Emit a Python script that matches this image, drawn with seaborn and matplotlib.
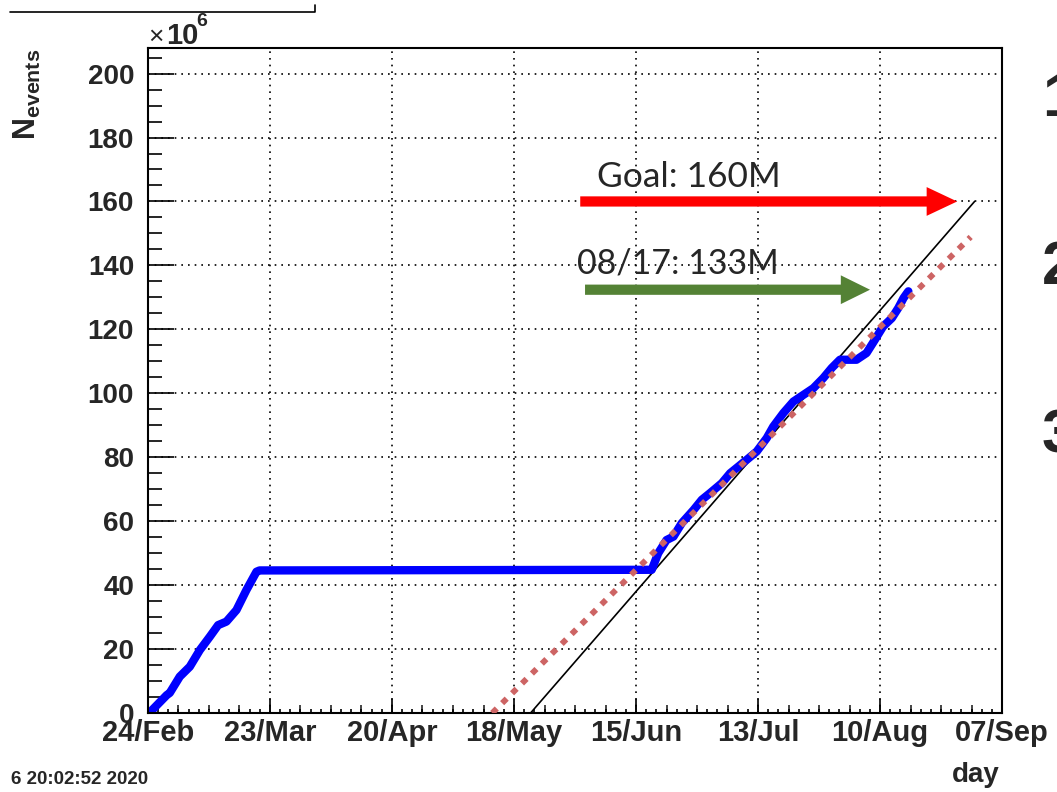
import datetime as dt
import numpy as np
import seaborn as sns
import matplotlib.pyplot as plt
from matplotlib.lines import Line2D
from matplotlib.ticker import MultipleLocator, FixedLocator, FuncFormatter

# days since 24/Feb/2020 and accumulated events (x10^6)
start_date = dt.date(2020, 2, 24)
run_days = [0, 0.5, 4.3, 5.0, 7.3, 9.6, 11.9, 14.2, 16.1, 18.0, 20.3, 22.6, 24.9, 25.6,
            115.6, 117.1, 119.0, 120.6, 122.5, 125.2, 127.1, 129.0, 131.7, 133.6, 135.5,
            137.4, 139.7, 142.0, 143.5, 145.8, 148.1, 150.4, 152.7, 155.0, 156.9, 158.8,
            162.6, 164.9, 166.8, 168.7, 170.7, 172.2, 173.4, 174.5]
run_events = [0, 0.3, 5.6, 6.3, 11.4, 14.5, 19.7, 23.9, 27.5, 28.6, 32.2, 38.5, 44.2, 44.6,
              44.8, 50.0, 54.1, 55.2, 59.4, 63.5, 66.7, 68.8, 71.9, 75.0, 77.1,
              79.2, 81.8, 86.0, 89.6, 93.8, 97.4, 99.5, 101.6, 104.8, 107.9, 110.5,
              110.5, 112.6, 116.7, 120.9, 123.5, 126.7, 129.8, 131.9]

# needed rate (black) and fitted trend (red dashed)
goal_days = [87.8, 189.7]
goal_events = [0, 160]
trend_days = [79.0, 188.8]
trend_events = [0, 148.9]

# arrows: (start day, end day, level)
goal_arrow = (99.2, 185.7, 160)
now_arrow = (100.3, 165.7, 132.4)

sns.set_style('ticks')
plt.rcParams['font.family'] = ['Liberation Sans', 'DejaVu Sans']
plt.rcParams['font.weight'] = 'bold'
plt.rcParams['mathtext.fontset'] = 'custom'
plt.rcParams['mathtext.rm'] = 'Liberation Sans'
plt.rcParams['mathtext.bf'] = 'Liberation Sans:bold'

fig = plt.figure(figsize=(10.57, 7.92), dpi=100)
ax = fig.add_axes([0.14, 0.0997, 0.808, 0.8397])

sns.lineplot(x=trend_days, y=trend_events, ax=ax, color='#cd6464', lw=4.2,
             linestyle=(0, (1.1, 1.3)), zorder=3)
sns.lineplot(x=goal_days, y=goal_events, ax=ax, color='black', lw=1.2, zorder=2)
sns.lineplot(x=run_days, y=run_events, ax=ax, color='#0000ff', lw=6, sort=False,
             estimator=None, zorder=2.5)

ax.set_xlim(0, 196)
ax.set_ylim(0, 208)

# ROOT-like axes
ax.xaxis.set_major_locator(FixedLocator(np.arange(0, 197, 28)))
ax.xaxis.set_major_formatter(FuncFormatter(
    lambda v, p: (start_date + dt.timedelta(days=int(round(v)))).strftime('%d/%b')))
ax.xaxis.set_minor_locator(MultipleLocator(7 / 3))
ax.yaxis.set_major_locator(MultipleLocator(20))
ax.yaxis.set_minor_locator(MultipleLocator(5))
ax.tick_params(axis='both', which='both', direction='in', top=False, right=False,
               color='black', width=1.2)
ax.tick_params(axis='y', which='major', length=19, labelsize=20, pad=10)
ax.tick_params(axis='y', which='minor', length=10)
ax.tick_params(axis='x', which='major', length=10, labelsize=21, pad=4)
ax.tick_params(axis='x', which='minor', length=3)
sec = ax.secondary_xaxis(0)
sec.xaxis.set_major_locator(MultipleLocator(7))
sec.tick_params(direction='in', length=6, width=1.2, labelbottom=False)
sec.spines['bottom'].set_visible(False)
for s in ax.spines.values():
    s.set_color('black')
    s.set_linewidth(1.5)
ax.grid(True, which='major', color='black', linestyle=(0, (1, 3)), linewidth=1.2)
ax.set_xlabel('')
ax.set_ylabel('')

# arrows
ax.arrow(goal_arrow[0], goal_arrow[2], goal_arrow[1] - goal_arrow[0], 0, width=3.2,
         head_width=9.0, head_length=7.0, length_includes_head=True,
         color='#ff0000', lw=0, zorder=4)
ax.arrow(now_arrow[0], now_arrow[2], now_arrow[1] - now_arrow[0], 0, width=3.2,
         head_width=9.0, head_length=6.7, length_includes_head=True,
         color='#548235', lw=0, zorder=4)
ax.text(103.0, 164.5, 'Goal: 160M', fontsize=25.5, fontweight='normal',
        family=['Lato', 'DejaVu Sans'], ha='left', va='baseline', zorder=5)
ax.text(98.5, 137.5, '08/17: 133M', fontsize=24.5, fontweight='normal',
        family=['Lato', 'DejaVu Sans'], ha='left', va='baseline', zorder=5)

# titles and decorations
fig.text(0.026, 0.939, r'$\mathbf{N}_{\mathbf{events}}$', rotation=90, fontsize=22,
         ha='center', va='top')
fig.text(0.1405, 0.944, '×', fontsize=19, fontweight='normal', ha='left', va='baseline')
fig.text(0.157, 0.944, '10', fontsize=21, ha='left', va='baseline')
fig.text(0.186, 0.967, '6', fontsize=14, ha='left', va='baseline')
fig.text(0.946, 0.012, 'day', fontsize=20, ha='right', va='baseline')
fig.text(0.010, 0.010, '6 20:02:52 2020', fontsize=13.5, ha='left', va='baseline')
fig.add_artist(Line2D([10 / 1057, 315 / 1057, 315 / 1057],
                      [1 - 12 / 792, 1 - 12 / 792, 1 - 5 / 792],
                      color='black', lw=1.2))
for digit, ypix in zip(['1', '2', '3'], [101, 268, 437]):
    fig.text(1042 / 1057, 1 - ypix / 792, digit, fontsize=44,
             family=['Liberation Sans', 'DejaVu Sans'], fontweight='bold',
             ha='left', va='center')

fig.savefig('out.png', dpi=100)
